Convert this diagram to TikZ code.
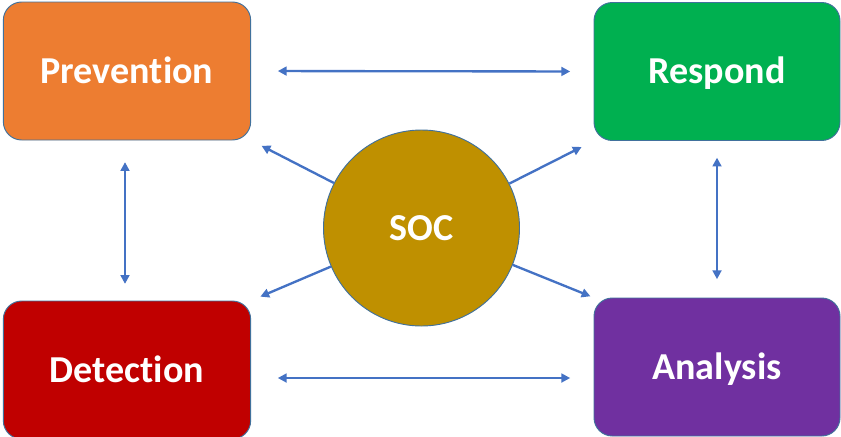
\documentclass[tikz,border=0pt]{standalone}
\usepackage{fontspec}
\setmainfont{Carlito}[Ligatures={NoCommon,NoContextual}]
\usetikzlibrary{arrows.meta}
\definecolor{prevcol}{HTML}{ED7D31}
\definecolor{respcol}{HTML}{00B050}
\definecolor{detcol}{HTML}{C00000}
\definecolor{anacol}{HTML}{7030A0}
\definecolor{soccol}{HTML}{BF9000}
\definecolor{edgecol}{HTML}{41719C}
\definecolor{arrcol}{HTML}{4472C4}
\begin{document}
\begin{tikzpicture}[x=0.03cm,y=-0.03cm,
		label text/.style={text=white,font=\fontsize{32.5}{38}\selectfont\bfseries,text height=29.2pt,text depth=8.3pt},
		phase/.style={label text,draw=edgecol,line width=0.8pt,rounded corners=0.55cm,minimum width=7.42cm,minimum height=4.14cm},
		link/.style={draw=arrcol,line width=2pt,{Triangle[length=7.5pt,width=7.5pt]}-{Triangle[length=7.5pt,width=7.5pt]}},
		spoke/.style={draw=arrcol,line width=2pt,-{Triangle[length=7.5pt,width=7.5pt]}}]
	\useasboundingbox (0,0) rectangle (841,436);
	\node[phase,fill=prevcol] (prev) at (127,71) {Prevention};
	\node[phase,fill=respcol,minimum width=7.38cm] (resp) at (717,71.5) {Respond};
	\node[phase,fill=detcol] (det) at (127,370) {Detection};
	\node[phase,fill=anacol,minimum width=7.38cm] (ana) at (717,367) {Analysis};
	\node[circle,label text,draw=edgecol,line width=0.8pt,fill=soccol,minimum size=5.88cm] (soc) at (421.5,228) {SOC};
	% links between the phases
	\draw[link,shorten <=0.8cm,shorten >=0.7cm] (prev.east) -- (resp.west);
	\draw[link,shorten <=0.8cm,shorten >=0.7cm] (det.east |- 0,378) -- (ana.west |- 0,378);
	\draw[link,shorten <=0.65cm,shorten >=0.5cm] (prev.south -| 125,0) -- (det.north -| 125,0);
	\draw[link,shorten <=0.5cm,shorten >=0.55cm] (resp.south) -- (ana.north);
	% spokes out of the centre
	\draw[spoke,shorten >=0.35cm] (soc) -- (prev.south east);
	\draw[spoke,shorten >=0.4cm] (soc) -- (resp.south west);
	\draw[spoke,shorten >=0.3cm] (soc) -- (det.north east);
	\draw[spoke,shorten >=0.1cm] (soc) -- (ana.north west);
\end{tikzpicture}
\end{document}
